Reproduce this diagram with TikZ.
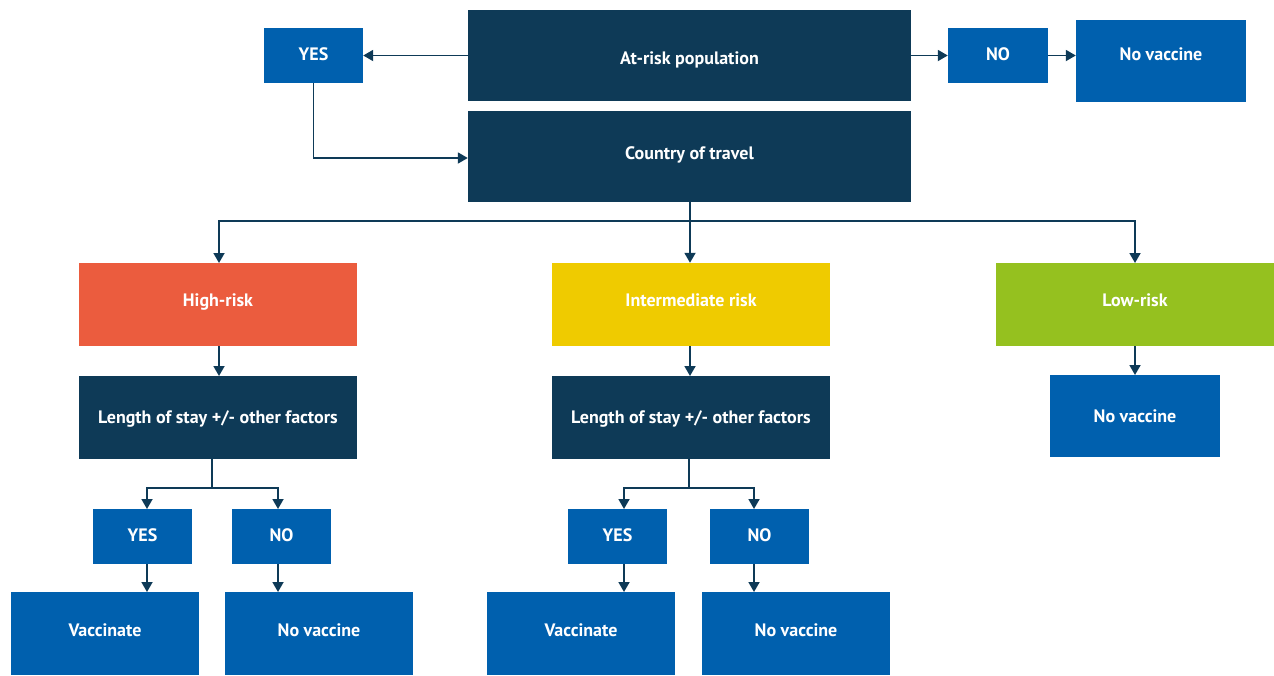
\documentclass[tikz,border=0pt]{standalone}
\usepackage{fontspec}
\setmainfont{PT Sans}
\usetikzlibrary{arrows.meta}
\definecolor{navy}{HTML}{0E3A57}
\definecolor{vblue}{HTML}{0060AE}
\definecolor{hred}{HTML}{EB5C3E}
\definecolor{iyel}{HTML}{EFCB00}
\definecolor{lgrn}{HTML}{95C11F}
\tikzset{
  box/.style={rectangle, inner sep=0pt, text=white, text height=12.6pt, text depth=0pt,
    font=\fontsize{18}{21}\selectfont\bfseries},
  navybox/.style={box, fill=navy},
  bluebox/.style={box, fill=vblue},
  conn/.style={draw=navy, line width=1.8pt, -{Triangle[width=11pt,length=10pt]}},
  plain/.style={draw=navy, line width=1.8pt},
}
\newcommand{\bx}[7]{\node[#1, minimum width={#4-#2}, minimum height={#5-#3}] (#6) at ({(#2+#4)/2},{(#3+#5)/2}) {#7};}
\begin{document}
\begin{tikzpicture}[x=1pt,y=-1pt]
\useasboundingbox (0,0) rectangle (1274,675);
% top row
\bx{navybox}{468}{10}{911}{101}{atrisk}{\raisebox{-2.5pt}{At-risk population}}
\bx{bluebox}{264}{28}{363}{83}{yest}{\raisebox{1pt}{YES}}
\bx{bluebox}{948}{28}{1048}{83}{not}{\raisebox{1pt}{NO}}
\bx{bluebox}{1076}{20}{1246}{102}{novt}{\raisebox{7pt}{No vaccine}}
\bx{navybox}{468}{111}{911}{202}{country}{\raisebox{3pt}{Country of travel}}
% risk row
\bx{box, fill=hred}{79}{263}{357}{346}{high}{\raisebox{4pt}{High-risk}}
\bx{box, fill=iyel}{552}{263}{830}{346}{inter}{\raisebox{4pt}{Intermediate risk}}
\bx{box, fill=lgrn}{996}{263}{1274}{346}{low}{\raisebox{4pt}{Low-risk}}
% stay row
\bx{navybox}{79}{376}{357}{459}{stayh}{Length of stay +/- other factors}
\bx{navybox}{552}{376}{830}{459}{staym}{Length of stay +/- other factors}
\bx{bluebox}{1050}{375}{1220}{457}{novl}{No vaccine}
% yes/no row
\bx{bluebox}{93}{509}{192}{564}{yesh}{\raisebox{1pt}{YES}}
\bx{bluebox}{232}{509}{331}{564}{noh}{\raisebox{1pt}{NO}}
\bx{bluebox}{568}{509}{667}{564}{yesm}{\raisebox{1pt}{YES}}
\bx{bluebox}{710}{509}{809}{564}{nom}{\raisebox{1pt}{NO}}
% outcome row
\bx{bluebox}{11}{592}{199}{675}{vach}{\raisebox{3pt}{Vaccinate}}
\bx{bluebox}{225}{592}{413}{675}{novh}{\raisebox{3pt}{No vaccine}}
\bx{bluebox}{487}{592}{675}{675}{vacm}{\raisebox{3pt}{Vaccinate}}
\bx{bluebox}{702}{592}{890}{675}{novm}{\raisebox{3pt}{No vaccine}}
% connectors top
\draw[conn] (atrisk.west |- yest.east) -- (yest.east);
\draw[conn] (atrisk.east |- not.west) -- (not.west);
\draw[conn] (not.east) -- (novt.west |- not.east);
\coordinate (ybend) at (yest.south |- 0,158);
\draw[conn] (yest.south) -- (ybend) -- (country.west |- ybend);
% branch
\coordinate (bj) at (690,221);
\draw[plain] (bj |- country.south) -- (bj);
\draw[conn] (bj) -| (219,263);
\draw[conn] (bj) -| (1135,263);
\draw[conn] (bj) -- (bj |- inter.north);
\draw[conn] (high.south -| 219,0) -- (219,376);
\draw[conn] (inter.south -| 690,0) -- (690,376);
\draw[conn] (low.south -| 1135,0) -- (1135,375);
% high split
\coordinate (hj) at (212,488);
\coordinate (hs) at (212,459);
\draw[plain] (hs) -- (hj);
\coordinate (hy) at (147,509);
\coordinate (hn) at (278,509);
\draw[conn] (hj) -| (hy);
\draw[conn] (hj) -| (hn);
\coordinate (hy2) at (147,564);
\coordinate (hv) at (147,592);
\draw[conn] (hy2) -- (hv);
\coordinate (hn2) at (278,564);
\coordinate (hnv) at (278,592);
\draw[conn] (hn2) -- (hnv);
% middle split
\coordinate (mj) at (689,488);
\coordinate (ms) at (689,459);
\draw[plain] (ms) -- (mj);
\coordinate (my) at (624,509);
\coordinate (mn) at (754,509);
\draw[conn] (mj) -| (my);
\draw[conn] (mj) -| (mn);
\coordinate (my2) at (624,564);
\coordinate (mv) at (624,592);
\draw[conn] (my2) -- (mv);
\coordinate (mn2) at (754,564);
\coordinate (mnv) at (754,592);
\draw[conn] (mn2) -- (mnv);
\end{tikzpicture}
\end{document}
